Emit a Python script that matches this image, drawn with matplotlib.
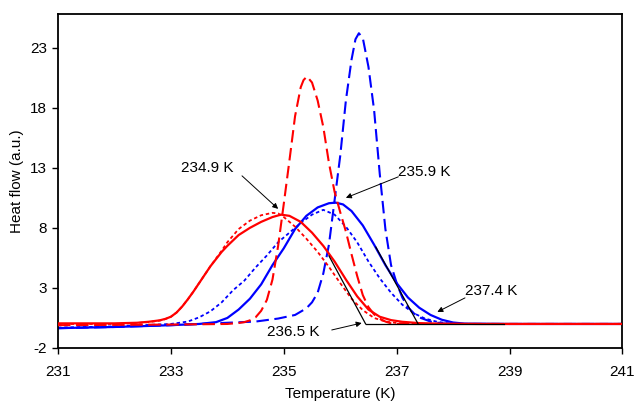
import matplotlib
matplotlib.use("Agg")
import matplotlib.pyplot as plt

plt.rcParams['font.family'] = ['Liberation Sans', 'DejaVu Sans']
plt.rcParams['lines.scale_dashes'] = False
plt.rcParams['axes.unicode_minus'] = False

# ---- data (temperature in K, heat flow in a.u.) ----
red_solid_T = [231, 232, 232.4, 232.6, 232.8, 232.9, 233.0, 233.1, 233.2, 233.3, 233.4, 233.5,
               233.6, 233.7, 233.8, 233.9, 234.0, 234.2, 234.4, 234.6, 234.8, 234.95, 235.1,
               235.3, 235.5, 235.7, 235.9, 236.1, 236.3, 236.5, 236.7, 236.9, 237.1, 237.4,
               237.8, 238.5, 239.5, 241.0]
red_solid_Q = [0.05, 0.05, 0.1, 0.18, 0.3, 0.42, 0.6, 0.95, 1.45, 2.05, 2.7, 3.4,
               4.1, 4.8, 5.4, 6.0, 6.5, 7.4, 8.0, 8.5, 8.9, 9.1, 9.0,
               8.5, 7.6, 6.5, 5.2, 3.7, 2.3, 1.2, 0.6, 0.32, 0.18, 0.07,
               0.02, 0.0, 0.0, 0.0]

red_dot_T = [231, 232, 232.4, 232.6, 232.8, 232.9, 233.0, 233.1, 233.2, 233.3, 233.4, 233.5,
             233.6, 233.7, 233.8, 233.9, 234.0, 234.2, 234.4, 234.6, 234.8, 234.9, 235.0,
             235.2, 235.4, 235.6, 235.8, 236.0, 236.2, 236.4, 236.6, 236.8, 237.0, 237.3,
             238.0, 241.0]
red_dot_Q = [0.0, 0.0, 0.08, 0.15, 0.28, 0.4, 0.6, 0.95, 1.45, 2.05, 2.7, 3.4,
             4.1, 4.8, 5.45, 6.1, 6.8, 7.9, 8.6, 9.05, 9.25, 9.2, 8.9,
             8.1, 7.1, 6.0, 4.75, 3.4, 2.1, 1.15, 0.5, 0.2, 0.08, 0.0,
             0.0, 0.0]

red_dash_T = [231, 233, 234.0, 234.2, 234.3, 234.4, 234.5, 234.6, 234.7, 234.8, 234.9, 235.0,
              235.1, 235.2, 235.3, 235.35, 235.41, 235.5, 235.6, 235.7, 235.8, 235.9, 236.0,
              236.1, 236.2, 236.3, 236.4, 236.5, 236.6, 236.7, 236.8, 236.9, 237.0, 241.0]
red_dash_Q = [-0.1, -0.05, 0.0, 0.08, 0.15, 0.3, 0.55, 1.1, 2.0, 3.7, 6.5, 10.0,
              13.6, 17.3, 19.7, 20.3, 20.6, 20.1, 18.6, 16.4, 13.4, 11.0, 9.3,
              7.7, 5.8, 4.0, 2.4, 1.4, 0.8, 0.45, 0.2, 0.05, 0.0, 0.0]

blue_solid_T = [231, 232, 232.5, 233, 233.5, 233.8, 234.0, 234.2, 234.4, 234.6, 234.8, 235.0,
                235.2, 235.4, 235.6, 235.8, 235.92, 236.05, 236.2, 236.4, 236.6, 236.8, 237.0,
                237.2, 237.4, 237.6, 237.8, 238.0, 238.2, 239.0, 241.0]
blue_solid_Q = [-0.35, -0.25, -0.18, -0.1, 0.0, 0.15, 0.5, 1.2, 2.1, 3.3, 4.9, 6.3,
                7.9, 9.0, 9.7, 10.05, 10.1, 9.95, 9.4, 8.2, 6.6, 4.9, 3.4,
                2.2, 1.35, 0.75, 0.35, 0.12, 0.03, 0.0, 0.0]

blue_dot_T = [231, 232, 232.5, 233, 233.3, 233.5, 233.7, 233.9, 234.1, 234.3, 234.5, 234.7,
              234.9, 235.1, 235.3, 235.5, 235.7, 235.9, 236.1, 236.3, 236.5, 236.7, 236.9,
              237.1, 237.3, 237.5, 237.7, 237.9, 238.1, 241.0]
blue_dot_Q = [-0.3, -0.2, -0.1, 0.0, 0.2, 0.55, 1.05, 1.8, 2.8, 3.6, 4.7, 5.7,
              6.8, 7.6, 8.4, 9.1, 9.5, 9.1, 8.1, 6.8, 5.2, 3.8, 2.6,
              1.6, 0.9, 0.45, 0.2, 0.05, 0.0, 0.0]

blue_dash_T = [231, 232, 233, 234, 234.5, 234.9, 235.2, 235.4, 235.5, 235.6, 235.7, 235.8,
               235.9, 236.0, 236.1, 236.2, 236.27, 236.33, 236.4, 236.5, 236.6, 236.7, 236.8,
               236.9, 237.0, 237.1, 237.2, 237.3, 237.4, 237.6, 237.8, 238.0, 241.0]
blue_dash_Q = [-0.35, -0.25, -0.1, 0.1, 0.2, 0.45, 0.75, 1.3, 1.8, 2.6, 4.2, 6.6,
               10.3, 14.0, 18.6, 22.0, 23.7, 24.2, 23.8, 21.4, 17.8, 12.5, 7.9,
               4.9, 3.4, 2.2, 1.4, 0.9, 0.55, 0.2, 0.05, 0.0, 0.0]

# onset construction lines (tangents + baseline)
tangent1_T = [235.8, 236.45]
tangent1_Q = [5.67, 0.0]
tangent2_T = [236.63, 237.38]
tangent2_Q = [6.4, 0.0]
base_T = [236.45, 238.9]
base_Q = [0.0, 0.0]

annot_labels = ["234.9 K", "235.9 K", "236.5 K", "237.4 K"]

# ---- figure ----
fig = plt.figure(figsize=(6.35, 4.03), dpi=100)
ax = fig.add_axes([0.0913, 0.1365, 0.889, 0.8287])

RED = '#ff0000'
BLUE = '#0000ff'
ax.plot(blue_dash_T, blue_dash_Q, color=BLUE, lw=1.5, dashes=(9, 4), zorder=2)
ax.plot(blue_dot_T, blue_dot_Q, color=BLUE, lw=1.3, dashes=(2.5, 2), zorder=2)
ax.plot(blue_solid_T, blue_solid_Q, color=BLUE, lw=1.6, zorder=2)
ax.plot(red_dash_T, red_dash_Q, color=RED, lw=1.5, dashes=(9, 4), zorder=3)
ax.plot(red_dot_T, red_dot_Q, color=RED, lw=1.3, dashes=(2.5, 2), zorder=3)
ax.plot(red_solid_T, red_solid_Q, color=RED, lw=1.6, zorder=3)
for tx, qy in [(tangent1_T, tangent1_Q), (tangent2_T, tangent2_Q), (base_T, base_Q)]:
    ax.plot(tx, qy, color='black', lw=0.9, zorder=4)

ax.set_xlim(231, 241)
ax.set_ylim(-2, 25.8)
ax.set_xticks([231, 233, 235, 237, 239, 241])
ax.set_yticks([-2, 3, 8, 13, 18, 23])
ax.tick_params(axis='x', direction='out', length=4, width=1.0, labelsize=11, pad=8)
ax.tick_params(axis='y', direction='out', length=4, width=1.0, labelsize=11, pad=4)
for s in ax.spines.values():
    s.set_linewidth(1.3)
ax.set_xlabel("Temperature (K)", fontsize=11, labelpad=6)
ax.set_ylabel("Heat flow (a.u.)", fontsize=11, labelpad=4)

arrow_kw = dict(arrowstyle='-|>', color='black', lw=0.7, mutation_scale=8,
                shrinkA=0, shrinkB=0)
text_pos = [(233.65, 13.0), (237.49, 12.67), (235.16, -0.67), (238.67, 2.75)]
arrow_from = [(234.26, 12.33), (237.03, 12.25), (235.85, -0.5), (238.21, 2.17)]
arrow_to = [(234.9, 9.58), (236.10, 10.5), (236.38, 0.08), (237.72, 1.0)]
for lab, tp, af, at in zip(annot_labels, text_pos, arrow_from, arrow_to):
    ax.text(tp[0], tp[1], lab, fontsize=11, ha='center', va='center', zorder=5)
    ax.annotate('', xy=at, xytext=af, arrowprops=arrow_kw, zorder=5)

fig.savefig("out.png", dpi=100)
